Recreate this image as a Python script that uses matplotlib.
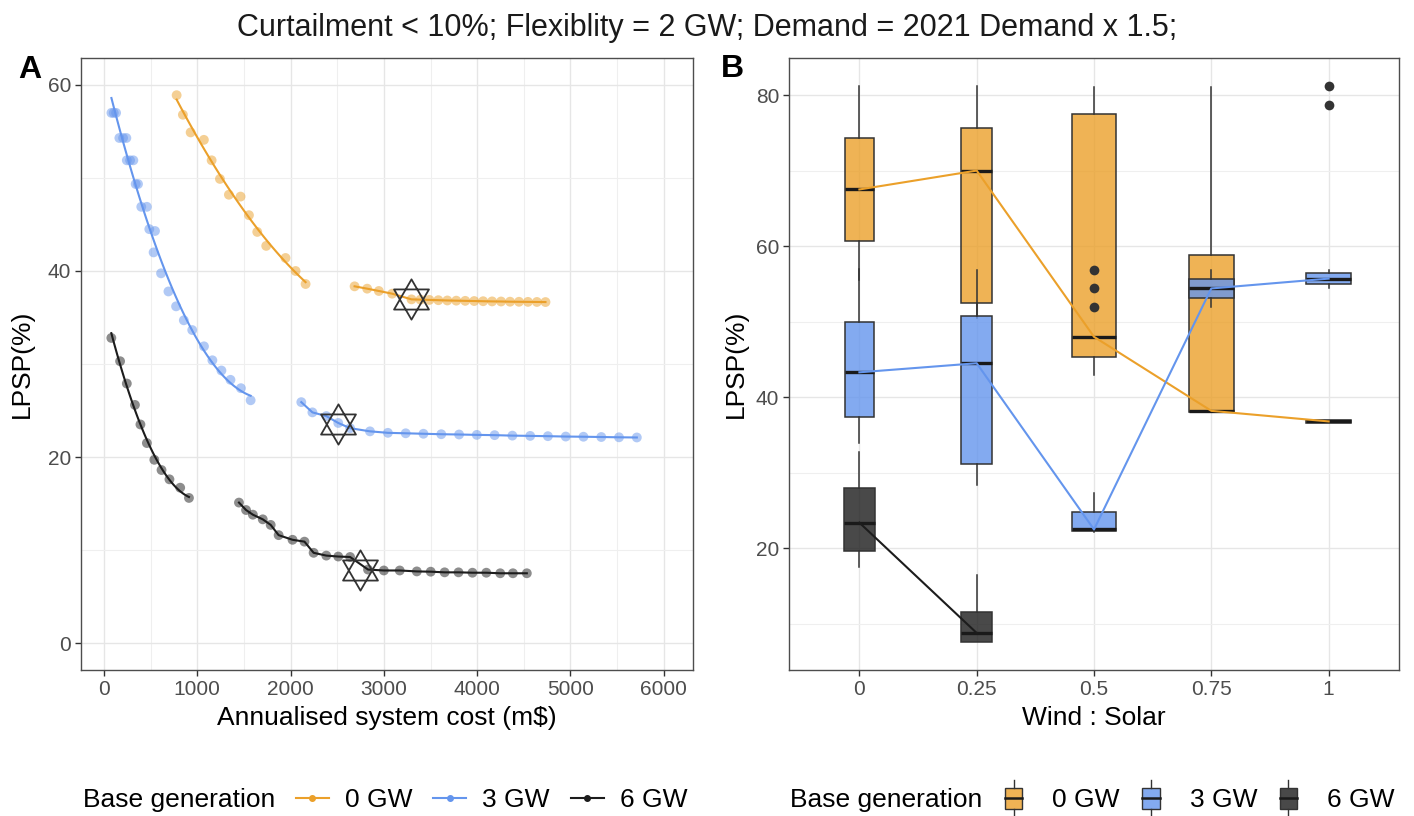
import numpy as np
import matplotlib
matplotlib.use("Agg")
import matplotlib.pyplot as plt
from matplotlib.lines import Line2D
from matplotlib.patches import Rectangle, Patch
from matplotlib.path import Path
from matplotlib.colors import to_rgba
from matplotlib.legend_handler import HandlerBase

plt.rcParams['font.family'] = ['Liberation Sans', 'DejaVu Sans']

# ---------------- panel A data ----------------
# 0 GW base generation
orange1_x = [779, 846, 929, 1071, 1154, 1243, 1339, 1464, 1554, 1643, 1739, 1946, 2054, 2161]
orange1_y = [58.9, 56.8, 54.9, 54.1, 51.9, 49.9, 48.2, 48.0, 46.0, 44.2, 42.7, 41.4, 40.0, 38.6]
orange2_x = [2686, 2821, 2946, 3089, 3296, 3392, 3488, 3584, 3680, 3776, 3872, 3968, 4064,
             4160, 4256, 4352, 4448, 4544, 4640, 4732]
orange2_y = [38.35, 38.1, 37.85, 37.56, 36.95, 36.92, 36.89, 36.86, 36.83, 36.81, 36.79, 36.77,
             36.75, 36.73, 36.72, 36.70, 36.69, 36.68, 36.67, 36.66]
# 3 GW
blue1_x = [80, 105, 130, 165, 205, 240, 245, 280, 315, 340, 365, 400, 460, 486, 547, 532, 612,
           691, 773, 856, 946, 1072, 1162, 1259, 1356, 1468, 1572]
blue1_y = [57.0, 57.0, 57.0, 54.3, 54.3, 54.3, 51.9, 51.9, 51.9, 49.35, 49.35, 46.9, 46.9, 44.5,
           44.3, 42.0, 39.75, 37.8, 36.2, 34.7, 33.65, 31.9, 30.4, 29.3, 28.3, 27.4, 26.1]
blue2_x = [2115, 2234, 2383, 2511, 2638, 2851, 3043, 3234, 3424, 3615, 3806, 3996, 4187, 4377,
           4568, 4758, 4949, 5139, 5330, 5520, 5711]
blue2_y = [25.9, 24.8, 24.4, 23.66, 23.1, 22.76, 22.6, 22.55, 22.5, 22.45, 22.42, 22.38, 22.35,
           22.3, 22.27, 22.24, 22.2, 22.18, 22.15, 22.12, 22.1]
# 6 GW
black1_x = [79, 173, 245, 332, 391, 460, 540, 617, 702, 817, 911]
black1_y = [32.8, 30.3, 27.9, 25.6, 23.5, 21.5, 19.7, 18.6, 17.6, 16.7, 15.6]
black2_x = [1447, 1523, 1596, 1702, 1787, 1872, 2021, 2149, 2247, 2383, 2511, 2638, 2830, 3000,
            3170, 3353, 3502, 3651, 3800, 3949, 4098, 4247, 4383, 4532]
black2_y = [15.1, 14.3, 13.8, 13.3, 12.7, 11.6, 11.1, 10.9, 9.7, 9.4, 9.3, 9.25, 7.9, 7.8, 7.8,
            7.7, 7.67, 7.6, 7.6, 7.56, 7.56, 7.5, 7.5, 7.5]
# chosen designs (star markers)
star_x = [3296, 2511, 2745]
star_y = [37.0, 23.5, 7.9]

# ---------------- panel B data ----------------
ratio_labels = ['0', '0.25', '0.5', '0.75', '1']
groups = ['0 GW', '3 GW', '6 GW']
# 0 GW
o_med = [67.5, 70.0, 48.0, 38.2, 36.8]
o_q1 = [60.7, 52.5, 45.3, 38.0, 36.65]
o_q3 = [74.3, 75.6, 77.5, 58.8, 37.0]
o_lo = [55.5, 50.5, 42.9, 38.0, 36.6]
o_hi = [81.2, 81.2, 81.1, 81.1, 37.0]
o_out = [[], [], [], [], [78.7, 81.2]]
o_n = [13, 14, 30, 30, 30]
# 3 GW
b_med = [43.3, 44.5, 22.5, 54.4, 55.7]
b_q1 = [37.4, 31.2, 22.25, 53.2, 55.0]
b_q3 = [50.0, 50.8, 24.8, 55.7, 56.4]
b_lo = [33.9, 28.4, 22.2, 52.0, 54.4]
b_hi = [57.0, 56.8, 27.3, 56.8, 56.8]
b_out = [[], [], [51.9, 54.4, 56.9], [], []]
b_n = [13, 14, 30, 30, 30]
# 6 GW (only two ratios)
k_med = [23.4, 8.8]
k_q1 = [19.6, 7.6]
k_q3 = [28.0, 11.6]
k_lo = [17.5, 7.6]
k_hi = [32.8, 16.5]
k_out = [[], []]
k_n = [15, 15]

c_orange = '#EBA02A'
c_blue = '#6495ED'
c_black = '#1c1c1c'

W, H = 1414, 816
fig = plt.figure(figsize=(W / 100, H / 100), dpi=100)


def px_box(l, t, r, b):
    return [l / W, 1 - b / H, (r - l) / W, (b - t) / H]


def style_axes(ax):
    for s in ax.spines.values():
        s.set_color('#4d4d4d')
        s.set_linewidth(1.0)
    ax.tick_params(which='major', direction='out', length=4, width=1, color='#333333',
                   labelsize=15, labelcolor='#4d4d4d', pad=3)
    ax.tick_params(which='minor', length=0)
    ax.grid(which='major', color='#e6e6e6', lw=1.0)
    ax.grid(which='minor', color='#efefef', lw=0.8)
    ax.set_axisbelow(True)


# ---------------- panel A ----------------
axA = fig.add_axes(px_box(81, 58, 693, 670))
style_axes(axA)
series = [(orange1_x, orange1_y, orange2_x, orange2_y, c_orange),
          (blue1_x, blue1_y, blue2_x, blue2_y, c_blue),
          (black1_x, black1_y, black2_x, black2_y, c_black)]
for x1, y1, x2, y2, c in series:
    # smooth fit through the first branch, plain line through the second
    coef = np.polyfit(x1, y1, 2)
    xs = np.linspace(min(x1), max(x1), 100)
    axA.plot(xs, np.polyval(coef, xs), color=c, lw=1.5, zorder=3)
    axA.plot(x2, y2, color=c, lw=1.5, zorder=3)
    axA.scatter(x1 + x2, y1 + y2, s=50, color=c, alpha=0.5, edgecolors='none', zorder=4)

star = Path([(0, 1), (-0.866, -0.5), (0.866, -0.5), (0, 1),
             (0, -1), (-0.866, 0.5), (0.866, 0.5), (0, -1)],
            [Path.MOVETO, Path.LINETO, Path.LINETO, Path.CLOSEPOLY] * 2)
axA.plot(star_x, star_y, ls='none', marker=star, ms=29, mfc='none', mec='#333333',
         mew=1.3, zorder=5)

axA.set_xlim(-246, 6313)
axA.set_ylim(-2.9, 62.9)
axA.set_xticks(range(0, 7000, 1000))
axA.set_xticks(range(500, 6500, 1000), minor=True)
axA.set_yticks([0, 20, 40, 60])
axA.set_yticks([10, 30, 50], minor=True)

# ---------------- panel B ----------------
axB = fig.add_axes(px_box(789, 58, 1399, 670))
style_axes(axB)
pos = np.arange(len(ratio_labels))
box_sets = [(o_med, o_q1, o_q3, o_lo, o_hi, o_out, o_n, c_orange),
            (b_med, b_q1, b_q3, b_lo, b_hi, b_out, b_n, c_blue),
            (k_med, k_q1, k_q3, k_lo, k_hi, k_out, k_n, c_black)]
nmax = 30
for z, (med, q1, q3, lo, hi, out, n, c) in enumerate(box_sets):
    stats = [dict(med=med[i], q1=q1[i], q3=q3[i], whislo=lo[i], whishi=hi[i], fliers=out[i])
             for i in range(len(med))]
    widths = [0.38 * np.sqrt(v / nmax) for v in n]
    bp = axB.bxp(stats, positions=pos[:len(med)], widths=widths, patch_artist=True,
                 showcaps=False, manage_ticks=False,
                 boxprops=dict(facecolor=to_rgba(c, 0.8), edgecolor='#333333', lw=1.1),
                 medianprops=dict(color='#1a1a1a', lw=2.4),
                 whiskerprops=dict(color='#333333', lw=1.1),
                 flierprops=dict(marker='o', mfc='#333333', mec='none', ms=7))
    for key in ('boxes', 'medians', 'whiskers', 'fliers'):
        for art in bp[key]:
            art.set_zorder(2 + 0.1 * z)
for med, c in [(o_med, c_orange), (b_med, c_blue), (k_med, c_black)]:
    axB.plot(pos[:len(med)], med, color=c, lw=1.5, zorder=3)

axB.set_xlim(-0.6, 4.6)
axB.set_ylim(3.9, 84.9)
axB.set_xticks(pos)
axB.set_xticklabels(ratio_labels)
axB.set_yticks([20, 40, 60, 80])
axB.set_yticks([10, 30, 50, 70], minor=True)
axB.grid(which='minor', axis='x', visible=False)

# ---------------- text ----------------
fig.text(0.5, 1 - 28 / H, 'Curtailment < 10%; Flexiblity = 2 GW; Demand = 2021 Demand x 1.5;',
         ha='center', va='center', size=22, color='#1a1a1a')
fig.text(18 / W, 1 - 70 / H, 'A', ha='left', va='center', size=23, weight='bold')
fig.text(721 / W, 1 - 69 / H, 'B', ha='left', va='center', size=23, weight='bold')
for xc in (22, 736):
    fig.text(xc / W, 1 - 364 / H, 'LPSP(%)', rotation=90, ha='center', va='center', size=19)
fig.text(387 / W, 1 - 718 / H, 'Annualised system cost (m$)', ha='center', va='center', size=19)
fig.text(1094 / W, 1 - 718 / H, 'Wind : Solar', ha='center', va='center', size=19)


# ---------------- legends ----------------
class BoxKey(HandlerBase):
    def create_artists(self, legend, orig_handle, xdescent, ydescent, width, height,
                       fontsize, trans):
        fc = orig_handle.get_facecolor()
        x0, y0 = -xdescent, -ydescent
        rect = Rectangle((x0, y0), width, height, facecolor=fc, edgecolor='#333333',
                         lw=1.0, transform=trans)
        mid = Line2D([x0, x0 + width], [y0 + height / 2] * 2, color='#1a1a1a', lw=1.8,
                     transform=trans)
        cx = x0 + width / 2
        w1 = Line2D([cx, cx], [y0 + height, y0 + height * 1.35], color='#333333', lw=1.0,
                    transform=trans)
        w2 = Line2D([cx, cx], [y0, y0 - height * 0.35], color='#333333', lw=1.0,
                    transform=trans)
        return [rect, mid, w1, w2]


leg_y = 1 - 800 / H
fig.text(83 / W, leg_y, 'Base generation', ha='left', va='center', size=19)
fig.text(790 / W, leg_y, 'Base generation', ha='left', va='center', size=19)

lineA = [Line2D([], [], color=c, lw=1.5, marker='o', ms=4) for c in (c_orange, c_blue, c_black)]
fig.legend(lineA, groups, loc='center left', bbox_to_anchor=(296 / W, leg_y), ncol=3,
           frameon=False, fontsize=19, handlelength=1.25, handletextpad=0.6,
           columnspacing=0.8, borderpad=0, borderaxespad=0)

boxB = [Patch(facecolor=to_rgba(c, 0.8)) for c in (c_orange, c_blue, c_black)]
fig.legend(boxB, groups, loc='center left', bbox_to_anchor=(1005 / W, leg_y), ncol=3,
           frameon=False, fontsize=19, handlelength=0.65, handleheight=0.85,
           handletextpad=1.15, columnspacing=0.85, borderpad=0, borderaxespad=0,
           handler_map={Patch: BoxKey()})

fig.savefig('out.png', dpi=100)
